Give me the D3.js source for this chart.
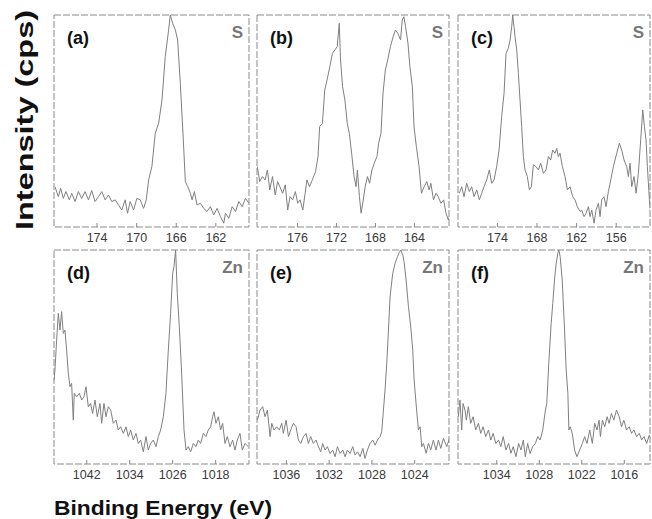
<!DOCTYPE html>
<html>
<head>
<meta charset="utf-8">
<script src="https://cdn.jsdelivr.net/npm/d3@7"></script>
<style>
  body { margin: 0; background: #fff; }
  svg { display: block; font-family: "Liberation Sans", Arial, sans-serif; }
</style>
</head>
<body>
<svg width="652" height="519"></svg>
<script>
// spectra: [binding energy (eV), intensity (relative cps)]
const spectrumA = [[178.20,19.0],[177.86,14.3],[177.63,18.3],[177.36,13.5],[177.09,16.7],[176.75,12.8],[176.51,15.9],[176.17,12.0],[175.84,16.7],[175.50,13.5],[175.16,16.7],[174.82,12.8],[174.49,17.2],[174.15,12.0],[173.81,14.3],[173.47,16.7],[173.13,12.8],[172.80,15.1],[172.46,12.0],[172.12,12.8],[171.78,10.4],[171.45,8.0],[171.11,12.8],[170.87,6.5],[170.60,12.0],[170.26,8.0],[169.93,13.5],[169.59,12.8],[169.25,8.8],[168.98,12.8],[168.74,22.2],[168.41,28.5],[168.07,44.2],[167.73,48.9],[167.39,59.9],[167.06,80.4],[166.72,92.9],[166.55,100],[166.31,96.1],[166.04,92.9],[165.81,88.2],[165.54,67.8],[165.27,44.2],[165.03,21.4],[164.79,19.0],[164.52,15.9],[164.35,12.8],[164.12,16.7],[163.85,10.4],[163.51,11.2],[163.17,8.8],[162.84,7.3],[162.50,9.6],[162.16,5.7],[161.82,8.8],[161.49,4.9],[161.15,1.8],[160.98,6.5],[160.64,4.1],[160.30,9.6],[159.96,7.3],[159.63,12.0],[159.29,9.6],[158.95,13.5],[158.61,11.2]];

const spectrumB = [[180.07,28.5],[179.82,21.4],[179.55,23.8],[179.27,22.2],[179.03,26.9],[178.79,17.5],[178.51,23.8],[178.23,15.1],[177.99,21.4],[177.75,19.0],[177.47,15.9],[177.20,19.9],[176.95,8.0],[176.71,14.3],[176.44,12.8],[176.16,16.7],[175.92,11.2],[175.68,12.8],[175.40,8.0],[175.16,15.9],[174.98,22.2],[174.71,19.0],[174.36,23.0],[174.09,26.1],[173.84,33.2],[173.67,47.4],[173.39,48.9],[173.15,64.6],[172.91,69.4],[172.63,75.6],[172.36,81.9],[172.11,83.5],[171.87,85.1],[171.66,96.1],[171.53,78.8],[171.32,66.2],[171.08,59.9],[170.84,48.9],[170.63,44.2],[170.39,34.8],[170.14,23.8],[169.94,19.0],[169.80,26.9],[169.59,14.3],[169.42,6.5],[169.25,11.2],[169.00,19.0],[168.76,23.8],[168.55,20.6],[168.31,26.9],[168.07,30.1],[167.79,33.2],[167.62,39.5],[167.38,44.2],[167.17,63.1],[166.93,74.1],[166.69,78.8],[166.41,85.1],[166.13,89.8],[165.89,92.9],[165.65,91.4],[165.37,88.2],[165.20,97.6],[165.03,99.2],[164.86,94.5],[164.61,86.7],[164.41,75.6],[164.16,66.2],[163.99,47.4],[163.75,37.9],[163.47,28.5],[163.23,15.9],[162.95,19.0],[162.68,21.4],[162.44,17.5],[162.26,20.6],[161.99,12.8],[161.74,15.9],[161.50,14.3],[161.23,11.2],[160.95,12.8],[160.71,6.5],[160.47,3.3],[160.26,6.5]];

const spectrumC = [[179.70,15.9],[179.34,19.0],[178.99,14.3],[178.58,20.6],[178.18,16.7],[177.83,19.0],[177.47,14.3],[177.07,17.5],[176.66,12.8],[176.31,15.9],[175.96,19.0],[175.55,22.2],[175.15,26.9],[174.79,20.6],[174.44,22.2],[174.04,28.5],[173.68,36.3],[173.28,52.1],[172.92,63.1],[172.62,81.9],[172.27,84.3],[172.01,88.2],[171.76,94.5],[171.61,100],[171.41,94.5],[171.26,89.8],[171.00,83.5],[170.75,72.5],[170.50,59.9],[170.25,47.4],[169.99,33.2],[169.74,26.9],[169.39,23.8],[169.08,17.5],[168.78,19.0],[168.48,29.3],[168.07,28.5],[167.72,26.9],[167.37,30.1],[166.96,25.3],[166.56,26.9],[166.20,33.2],[165.85,31.6],[165.55,36.3],[165.19,34.8],[164.94,37.1],[164.69,33.2],[164.44,34.8],[164.08,28.5],[163.68,23.8],[163.32,17.5],[162.92,19.0],[162.52,14.3],[162.16,12.8],[161.81,9.6],[161.40,7.3],[161.15,8.0],[160.80,4.9],[160.49,6.5],[160.14,9.6],[159.89,4.9],[159.63,8.0],[159.28,1.8],[158.98,8.0],[158.62,11.2],[158.37,4.9],[158.12,12.8],[157.77,14.3],[157.46,9.6],[157.11,16.7],[156.75,22.2],[156.35,28.5],[155.84,34.8],[155.44,39.5],[155.09,36.3],[154.73,31.6],[154.33,28.5],[154.08,23.8],[153.82,30.1],[153.57,19.0],[153.22,23.8],[152.91,15.9],[152.56,25.3],[152.21,41.1],[151.90,55.2],[151.65,47.4],[151.40,41.1],[151.20,28.5],[150.89,12.8],[150.59,3.3]];

const spectrumD = [[1048.00,39.2],[1047.82,43.9],[1047.51,57.9],[1047.20,70.4],[1046.89,62.6],[1046.58,71.2],[1046.27,61.0],[1045.96,62.6],[1045.65,53.3],[1045.34,42.4],[1045.03,36.1],[1044.72,37.7],[1044.41,20.5],[1044.22,33.0],[1043.78,31.4],[1043.29,33.0],[1042.85,29.9],[1042.42,31.4],[1042.05,36.1],[1041.61,26.8],[1041.18,28.3],[1040.81,23.6],[1040.37,29.9],[1039.94,22.1],[1039.44,28.3],[1039.13,19.0],[1038.70,28.3],[1038.32,22.1],[1037.89,26.8],[1037.45,25.2],[1036.96,19.0],[1036.46,20.5],[1036.03,15.9],[1035.59,17.4],[1035.10,14.3],[1034.60,17.4],[1034.17,12.8],[1033.73,15.9],[1033.24,11.2],[1032.74,14.3],[1032.31,9.6],[1031.87,11.2],[1031.37,5.7],[1030.88,12.8],[1030.44,6.5],[1030.01,9.6],[1029.51,11.2],[1029.02,8.1],[1028.58,12.8],[1028.15,15.9],[1027.65,22.1],[1027.16,33.0],[1026.72,53.3],[1026.29,70.4],[1025.91,89.1],[1025.67,92.2],[1025.36,100],[1025.05,79.7],[1024.67,64.2],[1024.24,42.4],[1023.80,15.9],[1023.43,6.5],[1023.00,8.1],[1022.56,5.7],[1022.07,9.6],[1021.57,8.1],[1021.14,11.2],[1020.70,9.6],[1020.21,14.3],[1019.71,12.8],[1019.28,15.9],[1018.84,17.4],[1018.47,22.1],[1018.22,24.4],[1017.85,19.0],[1017.41,22.1],[1016.98,15.9],[1016.61,19.0],[1016.17,9.6],[1015.74,12.8],[1015.24,8.1],[1014.74,11.2],[1014.31,6.5],[1013.88,11.2],[1013.38,14.3],[1012.95,6.5],[1012.45,9.6],[1011.83,8.1]];

const spectrumE = [[1038.66,20.5],[1038.41,25.2],[1038.17,26.8],[1037.95,22.1],[1037.73,25.2],[1037.48,12.8],[1037.32,19.0],[1037.11,15.9],[1036.86,17.4],[1036.61,15.9],[1036.39,19.0],[1036.23,14.3],[1035.98,20.5],[1035.76,12.8],[1035.55,15.9],[1035.30,19.0],[1035.05,17.4],[1034.83,11.2],[1034.61,9.6],[1034.36,12.8],[1034.11,14.3],[1033.90,9.6],[1033.68,12.8],[1033.43,9.6],[1033.18,11.2],[1032.96,8.1],[1032.74,5.7],[1032.56,9.6],[1032.34,6.5],[1032.12,8.1],[1031.87,4.9],[1031.62,6.5],[1031.40,3.4],[1031.18,8.1],[1030.93,4.9],[1030.68,6.5],[1030.47,3.4],[1030.25,6.5],[1030.00,4.9],[1029.75,8.1],[1029.53,4.2],[1029.31,5.7],[1029.06,3.4],[1028.81,7.3],[1028.60,2.6],[1028.38,6.5],[1028.13,9.6],[1027.88,11.2],[1027.66,8.8],[1027.44,11.2],[1027.19,12.8],[1027.04,15.1],[1026.88,25.2],[1026.73,34.6],[1026.57,47.0],[1026.41,62.6],[1026.26,78.2],[1026.01,89.1],[1025.79,93.8],[1025.57,96.9],[1025.39,99.0],[1025.26,100],[1025.07,97.7],[1024.95,94.5],[1024.76,86.0],[1024.54,73.5],[1024.33,64.2],[1024.14,53.3],[1024.01,39.2],[1023.83,28.3],[1023.61,15.9],[1023.45,17.4],[1023.30,8.1],[1023.14,9.6],[1022.89,5.0],[1022.67,9.6],[1022.46,6.5],[1022.21,11.2],[1021.96,6.5],[1021.74,11.2],[1021.52,7.3],[1021.27,12.0],[1020.96,8.1],[1020.71,12.0]];

const spectrumF = [[1039.36,22.1],[1039.12,29.9],[1038.88,15.9],[1038.69,28.3],[1038.41,25.2],[1038.22,20.5],[1037.94,26.8],[1037.61,19.0],[1037.27,22.1],[1036.90,15.9],[1036.52,19.0],[1036.19,14.3],[1035.86,17.4],[1035.48,12.8],[1035.10,15.9],[1034.77,11.2],[1034.44,14.3],[1034.06,9.6],[1033.68,11.2],[1033.35,8.1],[1033.02,12.8],[1032.64,6.5],[1032.26,9.6],[1031.93,5.0],[1031.60,8.1],[1031.22,3.4],[1030.84,9.6],[1030.51,6.5],[1030.18,11.2],[1029.90,3.4],[1029.57,9.6],[1029.23,4.9],[1028.86,8.1],[1028.48,9.6],[1028.15,12.8],[1027.81,11.2],[1027.44,15.9],[1027.06,25.2],[1026.87,28.3],[1026.59,47.0],[1026.25,65.7],[1026.02,75.1],[1025.78,86.0],[1025.54,93.8],[1025.31,98.4],[1025.17,100],[1024.98,96.9],[1024.69,86.0],[1024.36,62.6],[1024.13,43.9],[1023.89,33.0],[1023.75,15.9],[1023.56,17.4],[1023.27,14.3],[1022.94,6.5],[1022.61,3.4],[1022.23,6.5],[1021.85,9.6],[1021.52,12.8],[1021.19,9.6],[1020.81,15.9],[1020.44,9.6],[1020.10,19.0],[1019.77,15.9],[1019.49,20.5],[1019.30,12.8],[1019.02,20.5],[1018.69,17.4],[1018.35,22.1],[1018.07,19.0],[1017.74,23.6],[1017.41,20.5],[1017.03,25.2],[1016.65,22.1],[1016.32,17.4],[1015.99,20.5],[1015.61,15.9],[1015.23,17.4],[1014.90,14.3],[1014.57,15.9],[1014.19,12.8],[1013.81,14.3],[1013.48,11.2],[1013.15,12.8],[1012.77,9.6],[1012.40,13.5],[1012.06,11.2]];

// tick labels of each panel
const ticksA = [174, 170, 166, 162];
const ticksB = [176, 172, 168, 164];
const ticksC = [174, 168, 162, 156];
const ticksD = [1042, 1034, 1026, 1018];
const ticksE = [1036, 1032, 1028, 1024];
const ticksF = [1034, 1028, 1022, 1016];

const panelLabels = ["(a)", "(b)", "(c)", "(d)", "(e)", "(f)"];
const elementLabels = ["S", "S", "S", "Zn", "Zn", "Zn"];

// layout
const colLeft = [54, 257, 458], colRight = [249, 449, 650];
const rowTop = [15, 250], rowBottom = [227, 464];

const panels = [
  { data: spectrumA, ticks: ticksA, domain: [178.3, 158.6], col: 0, row: 0 },
  { data: spectrumB, ticks: ticksB, domain: [180.1, 160.4], col: 1, row: 0 },
  { data: spectrumC, ticks: ticksC, domain: [179.9, 150.8], col: 2, row: 0 },
  { data: spectrumD, ticks: ticksD, domain: [1048.0, 1011.7], col: 0, row: 1 },
  { data: spectrumE, ticks: ticksE, domain: [1038.7, 1020.75], col: 1, row: 1 },
  { data: spectrumF, ticks: ticksF, domain: [1039.4, 1012.3], col: 2, row: 1 },
];

const svg = d3.select("svg");

panels.forEach((p, i) => {
  const left = colLeft[p.col], right = colRight[p.col];
  const top = rowTop[p.row], bottom = rowBottom[p.row];

  const x = d3.scaleLinear().domain(p.domain).range([left, right]);
  const y = d3.scaleLinear().domain([0, 100]).range([bottom, top]);

  svg.append("clipPath")
    .attr("id", "clip" + i)
    .append("rect")
    .attr("x", left).attr("y", top)
    .attr("width", right - left).attr("height", bottom - top);

  // frame
  svg.append("rect")
    .attr("x", left).attr("y", top)
    .attr("width", right - left).attr("height", bottom - top)
    .attr("fill", "none")
    .attr("stroke", "#8a8a8a")
    .attr("stroke-width", 1)
    .attr("stroke-dasharray", "7,2");

  // bottom axis
  const ax = svg.append("g")
    .attr("transform", "translate(0," + bottom + ")")
    .call(d3.axisBottom(x).tickValues(p.ticks).tickFormat(d3.format("d"))
      .tickSizeInner(-4).tickSizeOuter(0).tickPadding(6));
  ax.select(".domain").remove();
  ax.selectAll(".tick line").attr("stroke", "#888");
  ax.selectAll(".tick text")
    .attr("fill", "#3a3a3a")
    .style("font-size", "12.5px")
    .style("font-family", "'Liberation Sans', Arial, sans-serif");

  const line = d3.line()
    .x((d) => x(d[0]))
    .y((d) => y(d[1]));

  svg.append("path")
    .datum(p.data)
    .attr("clip-path", "url(#clip" + i + ")")
    .attr("fill", "none")
    .attr("stroke", "#808080")
    .attr("stroke-width", 1)
    .attr("stroke-linejoin", "round")
    .attr("d", line);

  svg.append("text")
    .attr("x", left + 13)
    .attr("y", top + 29)
    .attr("fill", "#111")
    .style("font-size", "18px")
    .style("font-weight", "bold")
    .text(panelLabels[i]);

  svg.append("text")
    .attr("x", right - 6)
    .attr("y", top + 23)
    .attr("text-anchor", "end")
    .attr("fill", "#777")
    .style("font-size", "17px")
    .style("font-weight", "bold")
    .text(elementLabels[i]);
});

// axis titles
svg.append("text")
  .attr("transform", "translate(33,120) rotate(-90)")
  .attr("text-anchor", "middle")
  .attr("fill", "#111")
  .attr("textLength", 220)
  .attr("lengthAdjust", "spacingAndGlyphs")
  .style("font-size", "24px")
  .style("font-weight", "bold")
  .text("Intensity (cps)");

svg.append("text")
  .attr("x", 54)
  .attr("y", 515)
  .attr("fill", "#111")
  .attr("textLength", 218)
  .attr("lengthAdjust", "spacingAndGlyphs")
  .style("font-size", "20px")
  .style("font-weight", "bold")
  .text("Binding Energy (eV)");
</script>
</body>
</html>
